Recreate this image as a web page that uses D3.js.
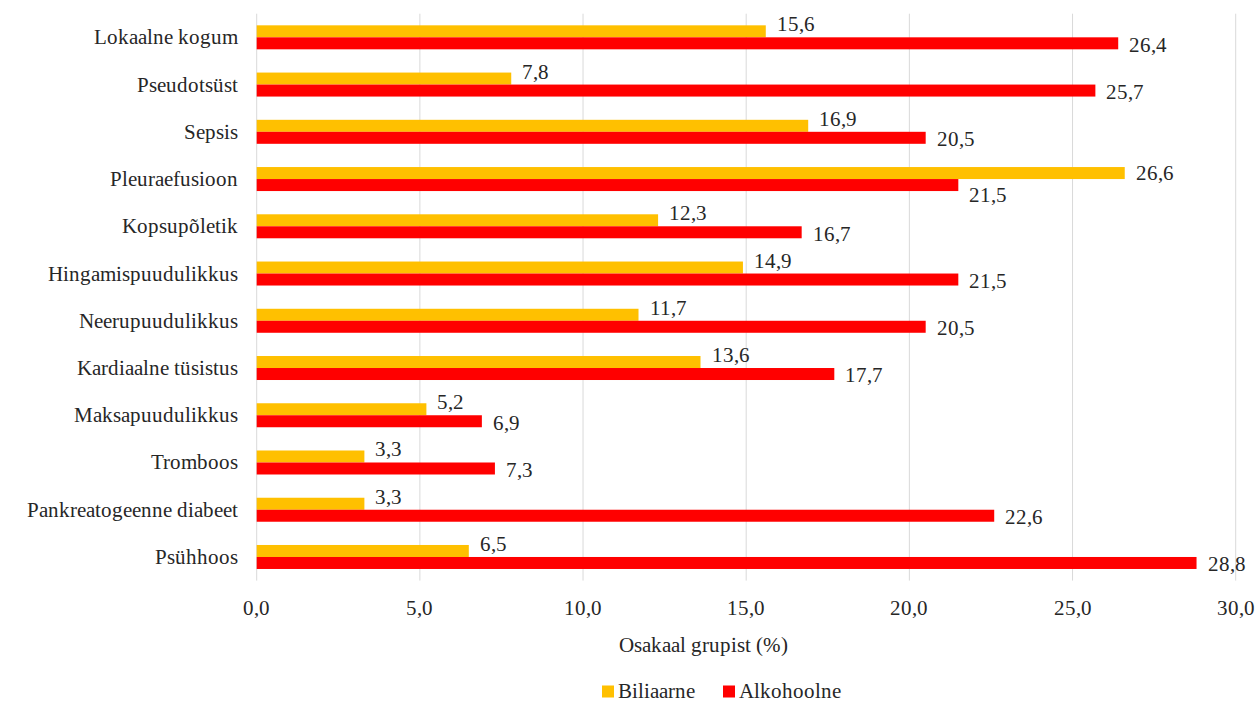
<!DOCTYPE html>
<html>
<head>
<meta charset="utf-8">
<script src="https://cdn.jsdelivr.net/npm/d3@7"></script>
<style>
  @font-face {
    font-family: "ChartSerif";
    src: local("Liberation Serif"), local("LiberationSerif"), local("LiberationSerif-Regular"),
         local("DejaVu Serif"), local("DejaVuSerif"), local("Times New Roman");
  }
  html, body { margin: 0; padding: 0; background: #ffffff; }
  svg { display: block; }
  svg text { font-family: "ChartSerif", "Liberation Serif", "Times New Roman", "DejaVu Serif", serif; }
</style>
</head>
<body>
<svg id="chart" width="1258" height="702"></svg>
<script>
// Tüsistuste osakaal grupist, biliaarne vs alkohoolne pankreatiit
const categories = [
  "Lokaalne kogum", "Pseudotsüst", "Sepsis", "Pleuraefusioon", "Kopsupõletik",
  "Hingamispuudulikkus", "Neerupuudulikkus", "Kardiaalne tüsistus",
  "Maksapuudulikkus", "Tromboos", "Pankreatogeenne diabeet", "Psühhoos"
];
const biliaarne  = [15.6, 7.8, 16.9, 26.6, 12.3, 14.9, 11.7, 13.6, 5.2, 3.3, 3.3, 6.5];
const alkohoolne = [26.4, 25.7, 20.5, 21.5, 16.7, 21.5, 20.5, 17.7, 6.9, 7.3, 22.6, 28.8];
const seriesNames = ["Biliaarne", "Alkohoolne"];
const seriesColors = ["#FFC000", "#FF0000"];
const xTicks = [0, 5, 10, 15, 20, 25, 30];
const axisTitle = "Osakaal grupist (%)";

const fontSize = 21;
const textColor = "#262626";
const fmt = v => d3.format(".1f")(v).replace(".", ",");

const svg = d3.select("#chart");
const plot = { left: 256.7, right: 1235.7, top: 13.7, bottom: 580.6 };

const x = d3.scaleLinear().domain([0, 30]).range([plot.left, plot.right]);
const y = d3.scaleBand().domain(categories).range([plot.top, plot.bottom])
  .paddingInner(0.492).paddingOuter(0.246);
const ySub = d3.scaleBand().domain(seriesNames).range([0, y.bandwidth()]);

function label(sel) {
  return sel.style("font-size", fontSize + "px").attr("fill", textColor);
}

// vertical gridlines (the one at 0 doubles as the axis line)
svg.append("g")
  .selectAll("line")
  .data(xTicks)
  .join("line")
  .attr("x1", d => x(d)).attr("x2", d => x(d))
  .attr("y1", plot.top).attr("y2", plot.bottom)
  .attr("stroke", "#d9d9d9").attr("stroke-width", 1);

// x tick labels
svg.append("g")
  .selectAll("text")
  .data(xTicks)
  .join("text")
  .attr("x", d => x(d)).attr("y", 608)
  .attr("text-anchor", "middle").attr("dominant-baseline", "central")
  .call(label)
  .text(d => fmt(d));

// category labels
svg.append("g")
  .selectAll("text")
  .data(categories)
  .join("text")
  .attr("x", 238).attr("y", d => y(d) + y.bandwidth() / 2)
  .attr("text-anchor", "end").attr("dominant-baseline", "central")
  .call(label)
  .text(d => d);

const rows = categories.map((c, i) => ({ cat: c, vals: [biliaarne[i], alkohoolne[i]] }));

const groups = svg.append("g")
  .selectAll("g")
  .data(rows)
  .join("g")
  .attr("transform", d => `translate(0,${y(d.cat)})`);

groups.selectAll("rect")
  .data(d => d.vals.map((v, s) => ({ v, s })))
  .join("rect")
  .attr("x", x(0))
  .attr("y", d => ySub(seriesNames[d.s]))
  .attr("width", d => x(d.v) - x(0))
  .attr("height", ySub.bandwidth())
  .attr("fill", d => seriesColors[d.s]);

// value labels: nudged apart vertically so the pair does not collide
groups.selectAll("text")
  .data(d => d.vals.map((v, s) => ({ v, s, other: d.vals[1 - s] })))
  .join("text")
  .attr("x", d => x(d.v) + 11)
  .attr("y", d => {
    const c = ySub(seriesNames[d.s]) + ySub.bandwidth() / 2;
    if (d.s === 0) return d.v > d.other ? c : c - 7;
    return d.other > d.v ? c + 10 : c + 1.5;
  })
  .attr("dominant-baseline", "central")
  .call(label)
  .text(d => fmt(d.v));

// axis title
svg.append("text")
  .attr("x", 703).attr("y", 645)
  .attr("text-anchor", "middle").attr("dominant-baseline", "central")
  .call(label)
  .text(axisTitle);

// legend
const legend = svg.append("g").attr("transform", "translate(602,691)");
const legendOffsets = [0, 121];
seriesNames.forEach((name, i) => {
  const g = legend.append("g").attr("transform", `translate(${legendOffsets[i]},0)`);
  g.append("rect").attr("x", 0).attr("y", -5.5).attr("width", 12).attr("height", 12)
    .attr("fill", seriesColors[i]);
  g.append("text").attr("x", 16).attr("y", 0)
    .attr("dominant-baseline", "central")
    .call(label)
    .text(name);
});
</script>
</body>
</html>
